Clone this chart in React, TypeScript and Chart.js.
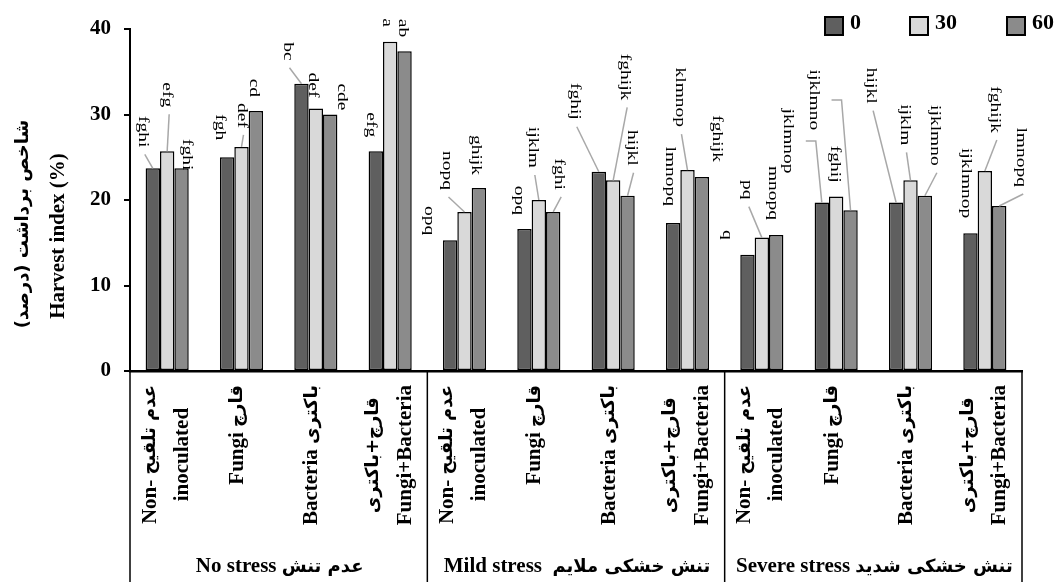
import React, { useEffect, useRef } from 'react';
import { Chart, registerables } from 'chart.js';
Chart.register(...registerables);

// ---------- data ----------
const groupLabels = ['No stress عدم تنش', 'Mild stress  تنش خشکی ملایم', 'Severe stress تنش خشکی شدید'];
const treatmentLabels: string[][] = [
  ['Non- عدم تلقیح', 'inoculated'],
  ['Fungi قارچ'],
  ['Bacteria باکتری'],
  ['قارچ+باکتری', 'Fungi+Bacteria'],
];
const categories = [
  'No stress / Non-inoculated', 'No stress / Fungi', 'No stress / Bacteria', 'No stress / Fungi+Bacteria',
  'Mild stress / Non-inoculated', 'Mild stress / Fungi', 'Mild stress / Bacteria', 'Mild stress / Fungi+Bacteria',
  'Severe stress / Non-inoculated', 'Severe stress / Fungi', 'Severe stress / Bacteria', 'Severe stress / Fungi+Bacteria',
];
const seriesNames = ['0', '30', '60'];
const values0 = [23.7, 25.0, 33.6, 25.7, 15.3, 16.6, 23.3, 17.3, 13.6, 19.7, 19.7, 16.1];
const values30 = [25.7, 26.2, 30.7, 38.5, 18.6, 20.0, 22.3, 23.5, 15.6, 20.4, 22.3, 23.4];
const values60 = [23.7, 30.4, 30.0, 37.4, 21.4, 18.6, 20.5, 22.7, 15.9, 18.8, 20.5, 19.3];
const letters0 = ['fghi', 'fgh', 'bc', 'efg', 'opq', 'opq', 'fghij', 'lmnopq', 'q', 'jklmnop', 'hijkl', 'ijklmnop'];
const letters30 = ['efg', 'def', 'def', 'a', 'nopq', 'ijklm', 'fghijk', 'klmnop', 'pq', 'fghij', 'ijklm', 'fghijk'];
const letters60 = ['fghi', 'cd', 'cde', 'ab', 'ghijk', 'fghi', 'hijkl', 'fghijk', 'mnopq', 'ijklmno', 'ijklmno', 'lmnopq'];
const yTicks = [0, 10, 20, 30, 40];
const yTitleLines = ['شاخص برداشت (درصد)', 'Harvest index (%)'];

// ---------- styling / annotation layout ----------
const barColors = ['#5f5f5f', '#d9d9d9', '#8b8b8b'];
// [dx, dy, leader kind] relative to bar top centre; 0 none, 1 straight, 2 elbow
const labelLayout0 = [[-10, -21, 1], [-7, -17, 0], [-14, -23, 1], [-5, -14, 0], [-21, -5, 0], [-6, -14, 0], [-24, -52, 1], [-3, -17, 0], [-21, -15, 0], [-34, -29, 2], [-25, -99, 1], [-5, -15, 0]];
const labelLayout30 = [[0, -44, 1], [0, -19, 1], [-3, -11, 0], [-3, -15, 0], [-18, -22, 1], [-6, -32, 1], [12, -80, 1], [-8, -43, 1], [-15, -38, 1], [-1, -14, 0], [-6, -35, 1], [10, -38, 1]];
const labelLayout60 = [[5, 2, 0], [-2, -14, 0], [12, -4, 0], [-2, -14, 0], [-3, -13, 0], [6, -22, 1], [4, -30, 1], [15, -15, 0], [-3, -15, 0], [-37, -80, 2], [10, -30, 1], [22, -19, 1]];

const W = 1057;
const H = 582;
const SERIF = '"Liberation Serif", "Times New Roman", "DejaVu Serif", serif';
const LATIN_BOLD = (px: number) => `bold ${px}px "Liberation Serif", "Times New Roman", serif`;
const ARABIC_BOLD = (px: number) => `bold ${px}px "DejaVu Sans", sans-serif`;
const STRETCH = 1.3;

const ARABIC_RE = /[\u0600-\u06FF]/;
function splitRuns(text: string): string[] {
  return text.match(/[\u0600-\u06FF][\u0600-\u06FF\u200c\s+()]*[\u0600-\u06FF)]|[\u0600-\u06FF]|[^\u0600-\u06FF]+/g) || [text];
}
// draws mixed Latin/Persian text horizontally in the current transform
function drawMixed(ctx: CanvasRenderingContext2D, text: string, x: number, y: number, align: 'left' | 'center' | 'right', latinPx: number, arabicPx: number) {
  const runs = splitRuns(text);
  const widths = runs.map((r) => {
    ctx.font = ARABIC_RE.test(r) ? ARABIC_BOLD(arabicPx) : LATIN_BOLD(latinPx);
    return ctx.measureText(r).width;
  });
  const total = widths.reduce((a, b) => a + b, 0);
  let cx = align === 'left' ? x : align === 'center' ? x - total / 2 : x - total;
  ctx.textAlign = 'left';
  runs.forEach((r, k) => {
    ctx.font = ARABIC_RE.test(r) ? ARABIC_BOLD(arabicPx) : LATIN_BOLD(latinPx);
    ctx.fillText(r, cx, y);
    cx += widths[k];
  });
  return total;
}
function measureMixed(ctx: CanvasRenderingContext2D, text: string, latinPx: number, arabicPx: number) {
  return splitRuns(text).reduce((s, r) => {
    ctx.font = ARABIC_RE.test(r) ? ARABIC_BOLD(arabicPx) : LATIN_BOLD(latinPx);
    return s + ctx.measureText(r).width;
  }, 0);
}

const overlay = {
  id: 'overlay',
  afterDatasetsDraw(chart: any) {
    const ctx: CanvasRenderingContext2D = chart.ctx;
    const letters = [letters0, letters30, letters60];
    const layouts = [labelLayout0, labelLayout30, labelLayout60];
    ctx.save();
    ctx.font = `15px ${SERIF}`;
    for (let d = 0; d < 3; d++) {
      const meta = chart.getDatasetMeta(d);
      meta.data.forEach((bar: any, i: number) => {
        const [dx, dy, kind] = layouts[d][i];
        const text = letters[d][i];
        const lx = bar.x + dx;
        const ly = bar.y + dy;
        const w = ctx.measureText(text).width * STRETCH;
        ctx.strokeStyle = '#a8a8a8';
        ctx.lineWidth = 1.5;
        if (kind === 1) {
          ctx.beginPath();
          ctx.moveTo(lx + 2, ly + 7);
          ctx.lineTo(bar.x, bar.y);
          ctx.stroke();
        } else if (kind === 2) {
          const my = ly - w / 2;
          ctx.beginPath();
          ctx.moveTo(lx + 18, my);
          ctx.lineTo(lx + 28, my);
          ctx.lineTo(bar.x, bar.y);
          ctx.stroke();
        }
        ctx.save();
        ctx.translate(lx, ly);
        ctx.rotate(Math.PI / 2);
        ctx.scale(STRETCH, 1);
        ctx.textAlign = 'right';
        ctx.textBaseline = 'middle';
        ctx.fillStyle = '#000';
        ctx.fillText(text, 0, 0);
        ctx.restore();
      });
    }
    ctx.restore();
  },
  afterDraw(chart: any) {
    const ctx: CanvasRenderingContext2D = chart.ctx;
    const area = chart.chartArea;
    const xs = chart.scales.x;
    ctx.save();
    // category box separators
    const n = categories.length;
    const boundaries = [area.left];
    for (let g = 1; g < 3; g++) {
      const i = g * 4;
      boundaries.push((xs.getPixelForValue(i - 1) + xs.getPixelForValue(i)) / 2);
    }
    boundaries.push(area.right);
    ctx.strokeStyle = '#000';
    ctx.lineWidth = 1.5;
    boundaries.forEach((bx) => {
      ctx.beginPath();
      ctx.moveTo(bx, area.bottom);
      ctx.lineTo(bx, H);
      ctx.stroke();
    });
    // treatment labels
    ctx.fillStyle = '#000';
    ctx.textBaseline = 'middle';
    const LP = 21;
    const AP = 18;
    for (let i = 0; i < n; i++) {
      const cx = xs.getPixelForValue(i);
      const lines = treatmentLabels[i % 4];
      const top = area.bottom + 14;
      if (lines.length === 1) {
        ctx.save();
        ctx.translate(cx - 4, top);
        ctx.rotate(-Math.PI / 2);
        drawMixed(ctx, lines[0], 0, 0, 'right', LP, AP);
        ctx.restore();
      } else {
        const maxW = Math.max(...lines.map((l) => measureMixed(ctx, l, LP, AP)));
        const offs = [-17, 15];
        lines.forEach((l, k) => {
          ctx.save();
          ctx.translate(cx + offs[k], top + maxW / 2);
          ctx.rotate(-Math.PI / 2);
          drawMixed(ctx, l, 0, 0, 'center', LP, AP);
          ctx.restore();
        });
      }
    }
    // group labels
    for (let g = 0; g < 3; g++) {
      const gx = (boundaries[g] + boundaries[g + 1]) / 2;
      drawMixed(ctx, groupLabels[g], gx + 1, 567, 'center', LP, AP);
    }
    // y title
    const titleX = [23, 59];
    const titleY = [224, 236];
    yTitleLines.forEach((t, k) => {
      ctx.save();
      ctx.translate(titleX[k], titleY[k]);
      ctx.rotate(-Math.PI / 2);
      ctx.textBaseline = 'middle';
      drawMixed(ctx, t, 0, 0, 'center', 21, 18);
      ctx.restore();
    });
    // legend
    const legendBoxX = [825, 910, 1007];
    ctx.font = LATIN_BOLD(22);
    ctx.textAlign = 'left';
    ctx.textBaseline = 'alphabetic';
    seriesNames.forEach((name, k) => {
      ctx.fillStyle = barColors[k];
      ctx.fillRect(legendBoxX[k], 17, 18, 18);
      ctx.strokeStyle = '#000';
      ctx.lineWidth = 2;
      ctx.strokeRect(legendBoxX[k], 17, 18, 18);
      ctx.fillStyle = '#000';
      ctx.fillText(name, legendBoxX[k] + 25, 29);
    });
    ctx.restore();
  },
};

export default function App() {
  const ref = useRef<HTMLCanvasElement | null>(null);
  useEffect(() => {
    if (!ref.current) return;
    const series = [values0, values30, values60];
    const chart = new Chart(ref.current, {
      type: 'bar',
      data: {
        labels: categories,
        datasets: series.map((vals, k) => ({
          label: seriesNames[k],
          data: vals,
          backgroundColor: barColors[k],
          borderColor: '#000',
          borderWidth: 1.5,
          borderSkipped: false,
          categoryPercentage: 0.58,
          barPercentage: 1.0,
        })),
      },
      options: {
        responsive: false,
        animation: false,
        devicePixelRatio: 1,
        layout: { padding: { left: 0, right: 35, top: 29, bottom: 0 } },
        plugins: { legend: { display: false }, tooltip: { enabled: false } },
        scales: {
          x: {
            grid: { display: false },
            border: { display: true, color: '#000', width: 2.5 },
            ticks: { display: false },
            afterFit: (s: any) => { s.height = 211; },
          },
          y: {
            min: 0,
            max: 40,
            afterBuildTicks: (s: any) => { s.ticks = yTicks.map((v) => ({ value: v })); },
            grid: { drawOnChartArea: false, drawTicks: true, tickLength: 6, color: '#000', lineWidth: 2 },
            border: { display: true, color: '#000', width: 2 },
            ticks: { color: '#000', font: { family: SERIF, size: 21, weight: 'bold' }, padding: 13 },
            afterFit: (s: any) => { s.width = 130; },
          },
        },
      },
      plugins: [overlay],
    } as any);
    return () => chart.destroy();
  }, []);
  return (
    <div style={{ position: 'absolute', left: 0, top: 0, width: W, height: H, background: '#fff' }}>
      <canvas ref={ref} width={W} height={H} style={{ width: W, height: H, display: 'block' }} />
    </div>
  );
}
